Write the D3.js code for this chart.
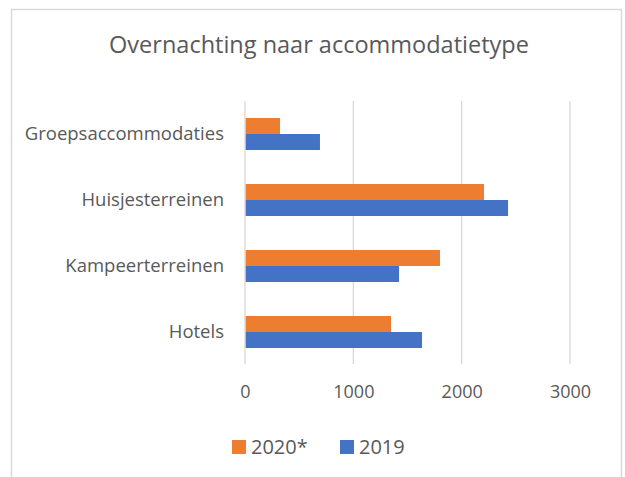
<!DOCTYPE html>
<html>
<head>
<meta charset="utf-8">
<script src="https://cdn.jsdelivr.net/npm/d3@7"></script>
<style>
  body { margin: 0; background: #fff; }
  text { font-family: "Open Sans", sans-serif; fill: #595959; }
</style>
</head>
<body>
<div id="chart"></div>
<script>
const categories = ['Groepsaccommodaties', 'Huisjesterreinen', 'Kampeerterreinen', 'Hotels'];
const seriesNames = ['2020*', '2019'];
const values2020 = [323, 2206, 1800, 1348];
const values2019 = [692, 2428, 1422, 1634];
const xTicks = [0, 1000, 2000, 3000];

const colors = { '2020*': '#ed7d31', '2019': '#4472c4' };

const width = 625;
const height = 477;

const data = categories.map((c, i) => ({
  category: c,
  values: [
    { key: '2020*', value: values2020[i] },
    { key: '2019', value: values2019[i] }
  ]
}));

const svg = d3.select('#chart')
  .append('svg')
  .attr('width', width)
  .attr('height', height);

// chart frame (bottom edge falls outside the picture)
svg.append('rect')
  .attr('x', 11.5)
  .attr('y', 9.5)
  .attr('width', 610)
  .attr('height', 480)
  .attr('fill', '#fff')
  .attr('stroke', '#d9d9d9')
  .attr('stroke-width', 1.5);

svg.append('text')
  .attr('x', 319)
  .attr('y', 53)
  .attr('text-anchor', 'middle')
  .attr('font-size', '23.5px')
  .text('Overnachting naar accommodatietype');

const xScale = d3.scaleLinear()
  .domain([0, 3000])
  .range([245, 570]);

const yScale = d3.scaleBand()
  .domain(categories)
  .range([101, 365])
  .paddingInner(0.515)
  .paddingOuter(0.2575);

const ySub = d3.scaleBand()
  .domain(seriesNames)
  .range([0, yScale.bandwidth()]);

// gridlines
svg.append('g')
  .selectAll('line')
  .data(xTicks)
  .enter()
  .append('line')
  .attr('x1', d => xScale(d))
  .attr('x2', d => xScale(d))
  .attr('y1', 101)
  .attr('y2', 364)
  .attr('stroke', '#d9d9d9')
  .attr('stroke-width', 1.3);

// bars
const groups = svg.append('g')
  .selectAll('g')
  .data(data)
  .enter()
  .append('g')
  .attr('transform', d => `translate(0,${yScale(d.category)})`);

groups.selectAll('rect')
  .data(d => d.values)
  .enter()
  .append('rect')
  .attr('x', xScale(0) + 0.7)
  .attr('y', d => ySub(d.key))
  .attr('width', d => xScale(d.value) - xScale(0) - 0.7)
  .attr('height', ySub.bandwidth())
  .attr('fill', d => colors[d.key]);

// x tick labels
const xAxis = svg.append('g')
  .attr('transform', 'translate(0,364)')
  .call(d3.axisBottom(xScale).tickValues(xTicks).tickFormat(d3.format('d')).tickSize(0).tickPadding(0));
xAxis.select('.domain').remove();
xAxis.selectAll('text')
  .attr('y', 28)
  .attr('dy', '0.35em')
  .attr('font-size', '18px')
  .attr('font-family', '"Open Sans", sans-serif')
  .style('fill', '#595959');

// category labels
const yAxis = svg.append('g')
  .attr('transform', 'translate(245,0)')
  .call(d3.axisLeft(yScale).tickSize(0).tickPadding(21));
yAxis.select('.domain').remove();
yAxis.selectAll('text')
  .attr('font-size', '18.5px')
  .attr('font-family', '"Open Sans", sans-serif')
  .style('fill', '#595959');

// legend
const legendItems = [
  { key: '2020*', x: 232 },
  { key: '2019', x: 340 }
];
const legend = svg.append('g')
  .selectAll('g')
  .data(legendItems)
  .enter()
  .append('g')
  .attr('transform', d => `translate(${d.x},440)`);

legend.append('rect')
  .attr('width', 14)
  .attr('height', 14)
  .attr('fill', d => colors[d.key]);

legend.append('text')
  .attr('x', 19)
  .attr('y', 7)
  .attr('dy', '0.35em')
  .attr('font-size', '20px')
  .text(d => d.key);
</script>
</body>
</html>
